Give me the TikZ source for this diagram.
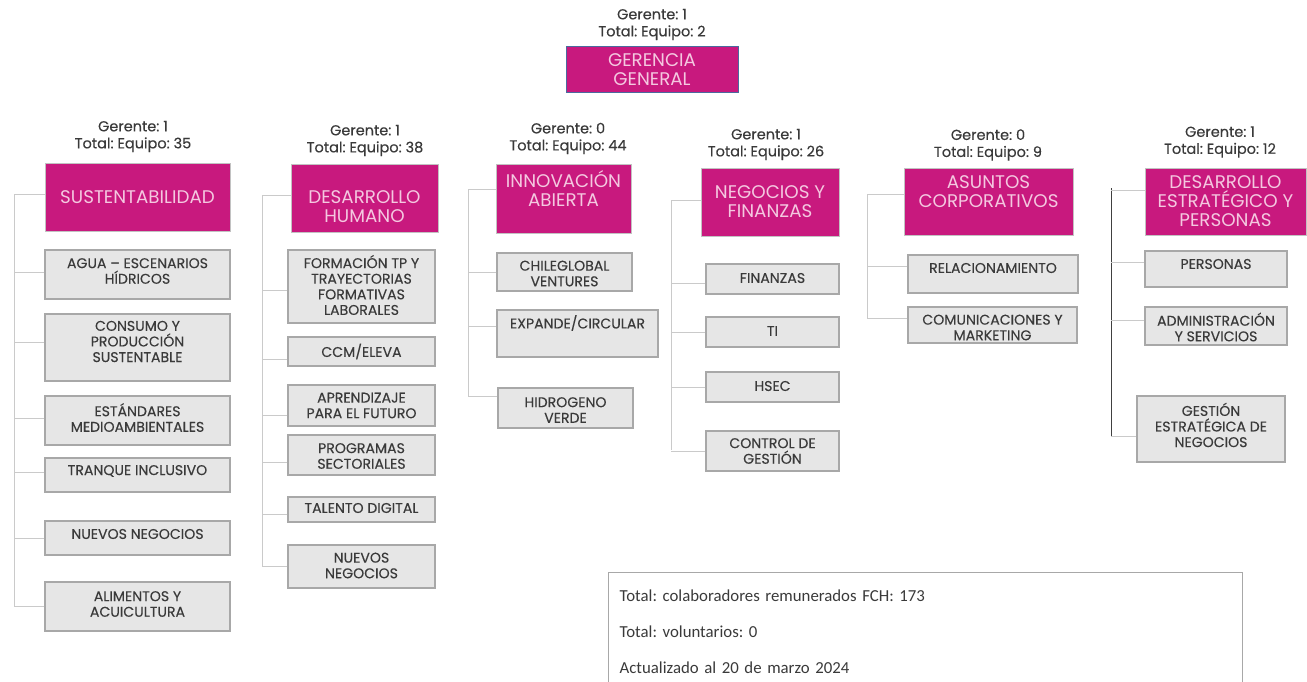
\documentclass[tikz,border=0pt]{standalone}
\usepackage{fontspec}
\setmainfont{Poppins}
\newfontfamily\poppinsm{Poppins}[FakeBold=0.25]
\newfontfamily\calibri{Carlito}
\frenchspacing
\definecolor{fuxia}{HTML}{C8197E}
\definecolor{rosa}{HTML}{F4C8E0}
\definecolor{cajagris}{HTML}{E6E6E6}
\definecolor{bordegris}{HTML}{A8A8A8}
\definecolor{linea}{HTML}{CACACA}
\definecolor{texto}{HTML}{3A3A3A}
\definecolor{azul}{HTML}{4A6A9E}
\tikzset{
  jefe/.style={fill=fuxia, draw=bordegris!70, line width=1pt, inner sep=0pt},
  jtxt/.style={text=rosa, align=center, font=\fontsize{18.3}{19}\selectfont},
  unidad/.style={fill=cajagris, draw=bordegris, line width=1.3pt, inner sep=0pt},
  utxt/.style={text=texto, align=center, font=\poppinsm\fontsize{14.1}{15.6}\selectfont},
  dotac/.style={text=texto, align=center, inner sep=0pt, font=\poppinsm\fontsize{14.5}{17}\selectfont},
  rama/.style={draw=linea, line width=1pt},
  pie/.style={draw=bordegris, line width=1.3pt, fill=white, text=texto, align=left,
    inner xsep=11pt, font=\calibri\fontsize{16.8}{36}\selectfont\frenchspacing},
}
\begin{document}
\begin{tikzpicture}[x=1pt, y=-1pt]
\useasboundingbox (0,0) rectangle (1307,681);
\clip (0,0) rectangle (1307,681);
% gerencia general
\node[dotac] (d0) at (652,24.5) {Gerente: 1\\Total: Equipo: 2};
\node[jefe, draw=azul, minimum width=172pt, minimum height=46pt,
  label={[jtxt,yshift=-1pt]center:{GERENCIA\\GENERAL}}] (gg) at (652,69) {};
% totales por area
\node[dotac] (d1) at (133,136.5) {Gerente: 1\\Total: Equipo: 35};
\node[dotac] (d2) at (365,140.5) {Gerente: 1\\Total: Equipo: 38};
\node[dotac] (d3) at (568,138.5) {Gerente: 0\\Total: Equipo: 44};
\node[dotac] (d4) at (766,144.5) {Gerente: 1\\Total: Equipo: 26};
\node[dotac] (d5) at (988,145) {Gerente: 0\\Total: Equipo: 9};
\node[dotac] (d6) at (1220,142) {Gerente: 1\\Total: Equipo: 12};
% areas
\node[jefe, minimum width=185pt, minimum height=68pt,
  label={[jtxt]center:{SUSTENTABILIDAD}}] (s1) at (137.5,197) {};
\node[jefe, minimum width=147pt, minimum height=68pt,
  label={[jtxt,yshift=-9pt]center:{DESARROLLO\\HUMANO}}] (s2) at (364.5,198) {};
\node[jefe, minimum width=135pt, minimum height=69pt,
  label={[jtxt,yshift=10pt]center:{INNOVACIÓN\\ABIERTA}}] (s3) at (563.5,198.5) {};
\node[jefe, minimum width=138pt, minimum height=68pt,
  label={[jtxt]center:{NEGOCIOS Y\\FINANZAS}}] (s4) at (770,202) {};
\node[jefe, minimum width=169pt, minimum height=67pt,
  label={[jtxt,yshift=9.5pt]center:{ASUNTOS\\CORPORATIVOS}}] (s5) at (988.5,201.5) {};
\node[jefe, minimum width=161pt, minimum height=67pt,
  label={[jtxt]center:{DESARROLLO\\ESTRATÉGICO Y\\PERSONAS}}] (s6) at (1225.5,201.5) {};
% sustentabilidad
\node[unidad, minimum width=185pt, minimum height=49pt,
  label={[utxt,yshift=3.5pt]center:{AGUA – ESCENARIOS\\HÍDRICOS}}] (s1a) at (137.5,274.5) {};
\node[unidad, minimum width=185pt, minimum height=67pt,
  label={[utxt,yshift=6pt]center:{CONSUMO Y\\PRODUCCIÓN\\SUSTENTABLE}}] (s1b) at (137.5,347.5) {};
\node[unidad, minimum width=185pt, minimum height=49pt,
  label={[utxt,yshift=3pt]center:{ESTÁNDARES\\MEDIOAMBIENTALES}}] (s1c) at (137.5,420.5) {};
\node[unidad, minimum width=185pt, minimum height=34pt,
  label={[utxt,yshift=4pt]center:{TRANQUE INCLUSIVO}}] (s1d) at (137.5,475) {};
\node[unidad, minimum width=185pt, minimum height=34pt,
  label={[utxt,yshift=4pt]center:{NUEVOS NEGOCIOS}}] (s1e) at (137.5,538) {};
\node[unidad, minimum width=185pt, minimum height=49pt,
  label={[utxt,yshift=2.5pt]center:{ALIMENTOS Y\\ACUICULTURA}}] (s1f) at (137.5,606.5) {};
% desarrollo humano
\node[unidad, minimum width=147pt, minimum height=73pt,
  label={[utxt,yshift=1.5pt]center:{FORMACIÓN TP Y\\TRAYECTORIAS\\FORMATIVAS\\LABORALES}}] (s2a) at (361.5,286.5) {};
\node[unidad, minimum width=147pt, minimum height=29pt,
  label={[utxt]center:{CCM/ELEVA}}] (s2b) at (361.5,351.5) {};
\node[unidad, minimum width=147pt, minimum height=41pt,
  label={[utxt]center:{APRENDIZAJE\\PARA EL FUTURO}}] (s2c) at (361.5,405.5) {};
\node[unidad, minimum width=147pt, minimum height=40pt,
  label={[utxt,yshift=-1pt]center:{PROGRAMAS\\SECTORIALES}}] (s2d) at (361.5,455) {};
\node[unidad, minimum width=147pt, minimum height=25pt,
  label={[utxt,yshift=1.5pt]center:{TALENTO DIGITAL}}] (s2e) at (361.5,509.5) {};
\node[unidad, minimum width=147pt, minimum height=43pt,
  label={[utxt,yshift=1pt]center:{NUEVOS\\NEGOCIOS}}] (s2f) at (361.5,566.5) {};
% innovacion abierta
\node[unidad, minimum width=135pt, minimum height=38pt,
  label={[utxt,yshift=-1.5pt]center:{CHILEGLOBAL\\VENTURES}}] (s3a) at (564.5,272) {};
\node[unidad, minimum width=161pt, minimum height=47pt,
  label={[utxt,yshift=10.5pt]center:{EXPANDE/CIRCULAR}}] (s3b) at (577.5,333.5) {};
\node[unidad, minimum width=135pt, minimum height=40pt,
  label={[utxt,yshift=-2pt]center:{HIDROGENO\\VERDE}}] (s3c) at (565.5,408) {};
% negocios y finanzas
\node[unidad, minimum width=133pt, minimum height=30pt,
  label={[utxt,yshift=1pt]center:{FINANZAS}}] (s4a) at (772.5,279) {};
\node[unidad, minimum width=133pt, minimum height=30pt,
  label={[utxt,yshift=1pt]center:{TI}}] (s4b) at (772.5,332) {};
\node[unidad, minimum width=133pt, minimum height=30pt,
  label={[utxt,yshift=1pt]center:{HSEC}}] (s4c) at (772.5,387) {};
\node[unidad, minimum width=133pt, minimum height=40pt,
  label={[utxt]center:{CONTROL DE\\GESTIÓN}}] (s4d) at (772.5,451) {};
% asuntos corporativos
\node[unidad, minimum width=170pt, minimum height=38pt,
  label={[utxt,yshift=6pt]center:{RELACIONAMIENTO}}] (s5a) at (993,274) {};
\node[unidad, minimum width=169pt, minimum height=36pt,
  label={[utxt,yshift=-2.5pt]center:{COMUNICACIONES Y\\MARKETING}}] (s5b) at (992.5,325) {};
% desarrollo estrategico y personas
\node[unidad, minimum width=142pt, minimum height=36pt,
  label={[utxt,yshift=5pt]center:{PERSONAS}}] (s6a) at (1216,269) {};
\node[unidad, minimum width=142pt, minimum height=38pt,
  label={[utxt,yshift=-1pt]center:{ADMINISTRACIÓN\\Y SERVICIOS}}] (s6b) at (1216,326) {};
\node[unidad, minimum width=148pt, minimum height=66pt,
  label={[utxt,yshift=4pt]center:{GESTIÓN\\ESTRATÉGICA DE\\NEGOCIOS}}] (s6c) at (1211,429) {};
% lineas de dependencia
\coordinate (sp1) at (14,194);   \coordinate (sp1e) at (14,607);
\coordinate (sp2) at (262,195);  \coordinate (sp2e) at (262,567);
\coordinate (sp3) at (468,189);  \coordinate (sp3e) at (468,396);
\coordinate (sp4) at (671,200);  \coordinate (sp4e) at (671,450);
\coordinate (sp5) at (867,194);  \coordinate (sp5e) at (867,318);
\coordinate (sp6) at (1111,188); \coordinate (sp6e) at (1111,436);
\foreach \c in {1,...,5}
  \draw[rama] (sp\c) -- (sp\c e);
\draw[rama, draw=black!75] (sp6) -- (sp6e);
\foreach \n/\d in {s1/3,s1a/2.5,s1b/5.5,s1c/2.5,s1d/3,s1e/0,s1f/0}
  \draw[rama] ([yshift=\d pt]\n.west) coordinate (b) -- (b -| sp1);
\foreach \n/\d in {s2/3,s2a/-3.5,s2b/-7.5,s2c/-9.5,s2d/-7,s2e/-4.5,s2f/0}
  \draw[rama] ([yshift=\d pt]\n.west) coordinate (b) -- (b -| sp2);
\foreach \n/\d in {s3/9.5,s3a/0,s3b/7.5,s3c/12}
  \draw[rama] ([yshift=\d pt]\n.west) coordinate (b) -- (b -| sp3);
\foreach \n/\d in {s4/2,s4a/-4,s4b/0,s4c/0,s4d/0}
  \draw[rama] ([yshift=\d pt]\n.west) coordinate (b) -- (b -| sp4);
\foreach \n/\d in {s5/7.5,s5a/8,s5b/7}
  \draw[rama] ([yshift=\d pt]\n.west) coordinate (b) -- (b -| sp5);
\foreach \n/\d in {s6/11.5,s6a/7,s6b/6,s6c/-7}
  \draw[rama] ([yshift=\d pt]\n.west) coordinate (b) -- (b -| sp6);
% resumen
\node[pie, anchor=north west, minimum width=634pt, minimum height=118pt, text width=612pt] (tot) at (608,572)
  {Total: colaboradores remunerados FCH: 173\\Total: voluntarios: 0\\Actualizado al 20 de marzo 2024};
\end{tikzpicture}
\end{document}
